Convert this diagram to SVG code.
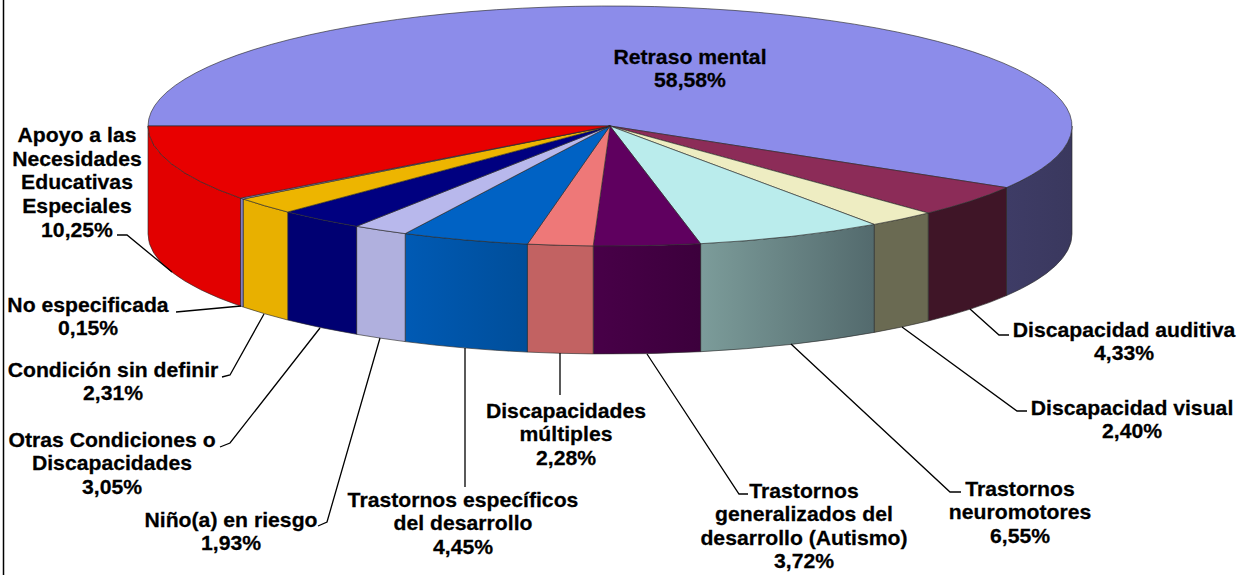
<svg xmlns="http://www.w3.org/2000/svg" width="1241" height="575" viewBox="0 0 1241 575">
<style>
.top{stroke:#2a2a2a;stroke-width:0.8;stroke-opacity:0.8;stroke-linejoin:round}
.wall{stroke:#2a2a2a;stroke-width:0.8;stroke-opacity:0.8;stroke-linejoin:round}
.lbl{font-family:"Liberation Sans",Arial,sans-serif;font-weight:bold;font-size:20px;fill:#000;stroke:#000;stroke-width:0.25;text-anchor:middle}
.ld{fill:none;stroke:#000;stroke-width:1.3}
</style>
<defs>
<linearGradient id="gNeuro" x1="0" y1="0" x2="1" y2="0"><stop offset="0" stop-color="#7C9C9A"/><stop offset="1" stop-color="#536A6D"/></linearGradient>
<linearGradient id="gEsp" x1="0" y1="0" x2="1" y2="0"><stop offset="0" stop-color="#005AB4"/><stop offset="1" stop-color="#004E9A"/></linearGradient>
<linearGradient id="gAut" x1="0" y1="0" x2="1" y2="0"><stop offset="0" stop-color="#480048"/><stop offset="1" stop-color="#3C003C"/></linearGradient>
<linearGradient id="gRet" x1="0" y1="0" x2="1" y2="0"><stop offset="0" stop-color="#3E3C66"/><stop offset="1" stop-color="#3A385E"/></linearGradient>
</defs>
<rect width="1241" height="575" fill="#fff"/>
<line x1="3.5" y1="0" x2="3.5" y2="575" stroke="#000" stroke-width="1.5"/>

<g id="walls">
<path class="wall" fill="url(#gRet)" d="M1072,126 A462,120 0 0 1 1006.5,187.6 L1006.5,295.6 A462,120 0 0 0 1072,234 Z"/>
<path class="wall" fill="#3F1527" d="M1006.5,187.6 A462,120 0 0 1 928.2,213 L928.2,321 A462,120 0 0 0 1006.5,295.6 Z"/>
<path class="wall" fill="#6A6A52" d="M928.2,213 A462,120 0 0 1 874.2,224.4 L874.2,332.4 A462,120 0 0 0 928.2,321 Z"/>
<path class="wall" fill="url(#gNeuro)" d="M874.2,224.4 A462,120 0 0 1 700.6,243.7 L700.6,351.7 A462,120 0 0 0 874.2,332.4 Z"/>
<path class="wall" fill="url(#gAut)" d="M700.6,243.7 A462,120 0 0 1 593.2,245.9 L593.2,353.9 A462,120 0 0 0 700.6,351.7 Z"/>
<path class="wall" fill="#C26262" d="M593.2,245.9 A462,120 0 0 1 527.4,244.1 L527.4,352.1 A462,120 0 0 0 593.2,353.9 Z"/>
<path class="wall" fill="url(#gEsp)" d="M527.4,244.1 A462,120 0 0 1 405.2,233.6 L405.2,341.6 A462,120 0 0 0 527.4,352.1 Z"/>
<path class="wall" fill="#B0B0DE" d="M405.2,233.6 A462,120 0 0 1 356.6,226.3 L356.6,334.3 A462,120 0 0 0 405.2,341.6 Z"/>
<path class="wall" fill="#000072" d="M356.6,226.3 A462,120 0 0 1 287.7,212 L287.7,320 A462,120 0 0 0 356.6,334.3 Z"/>
<path class="wall" fill="#E8B000" d="M287.7,212 A462,120 0 0 1 243.2,199 L243.2,307 A462,120 0 0 0 287.7,320 Z"/>
<path class="wall" fill="#8080C0" d="M243.2,199 A462,120 0 0 1 240.5,198.1 L240.5,306.1 A462,120 0 0 0 243.2,307 Z"/>
<path class="wall" fill="#E20000" d="M240.5,198.1 A462,120 0 0 1 148,126 L148,234 A462,120 0 0 0 240.5,306.1 Z"/>
</g>

<g id="slice-retraso"><path class="top" fill="#8C8CEA" d="M610,126 L148,126 A462,120 0 1 1 1006.5,187.6 Z"/></g>
<g id="slice-auditiva"><path class="top" fill="#8C2C58" d="M610,126 L1006.5,187.6 A462,120 0 0 1 928.2,213 Z"/></g>
<g id="slice-visual"><path class="top" fill="#EEEDC2" d="M610,126 L928.2,213 A462,120 0 0 1 874.2,224.4 Z"/></g>
<g id="slice-neuromotores"><path class="top" fill="#BAECEC" d="M610,126 L874.2,224.4 A462,120 0 0 1 700.6,243.7 Z"/></g>
<g id="slice-autismo"><path class="top" fill="#5F005F" d="M610,126 L700.6,243.7 A462,120 0 0 1 593.2,245.9 Z"/></g>
<g id="slice-multiples"><path class="top" fill="#EE7878" d="M610,126 L593.2,245.9 A462,120 0 0 1 527.4,244.1 Z"/></g>
<g id="slice-especificos"><path class="top" fill="#0062C4" d="M610,126 L527.4,244.1 A462,120 0 0 1 405.2,233.6 Z"/></g>
<g id="slice-nino"><path class="top" fill="#B8B8EC" d="M610,126 L405.2,233.6 A462,120 0 0 1 356.6,226.3 Z"/></g>
<g id="slice-otras"><path class="top" fill="#000080" d="M610,126 L356.6,226.3 A462,120 0 0 1 287.7,212 Z"/></g>
<g id="slice-condicion"><path class="top" fill="#EDB500" d="M610,126 L287.7,212 A462,120 0 0 1 243.2,199 Z"/></g>
<g id="slice-noesp"><path class="top" fill="#9999DD" d="M610,126 L243.2,199 A462,120 0 0 1 240.5,198.1 Z"/></g>
<g id="slice-apoyo"><path class="top" fill="#E80000" d="M610,126 L240.5,198.1 A462,120 0 0 1 148,126 Z"/></g>

<g id="connectors">
<polyline class="ld" points="117,235 127,235 172,272"/>
<polyline class="ld" points="176,312 241,306"/>
<polyline class="ld" points="222,377 230,375 264,314"/>
<polyline class="ld" points="220,447 230,443 320,328"/>
<polyline class="ld" points="318,526 327,522 380,338"/>
<polyline class="ld" points="465,348 465,487"/>
<polyline class="ld" points="560,353 560,395"/>
<polyline class="ld" points="647,354 739,494 748,494"/>
<polyline class="ld" points="791,344 950,492 961,492"/>
<polyline class="ld" points="902,327 1017,411 1027,411"/>
<polyline class="ld" points="970,309 999,335 1009,335"/>
</g>

<g id="label-retraso"><text class="lbl" transform="translate(690,64) scale(1.06,1)"><tspan x="0">Retraso mental</tspan><tspan x="0" dy="23.5">58,58%</tspan></text></g>
<g id="label-apoyo"><text class="lbl" transform="translate(77,142) scale(1.06,1)"><tspan x="0">Apoyo a las</tspan><tspan x="0" dy="23.7">Necesidades</tspan><tspan x="0" dy="23.7">Educativas</tspan><tspan x="0" dy="23.7">Especiales</tspan><tspan x="0" dy="23.7">10,25%</tspan></text></g>
<g id="label-noesp"><text class="lbl" transform="translate(88,312) scale(1.06,1)"><tspan x="0">No especificada</tspan><tspan x="0" dy="23.5">0,15%</tspan></text></g>
<g id="label-condicion"><text class="lbl" transform="translate(113,377) scale(1.06,1)"><tspan x="0">Condición sin definir</tspan><tspan x="0" dy="23.5">2,31%</tspan></text></g>
<g id="label-otras"><text class="lbl" transform="translate(112,447) scale(1.06,1)"><tspan x="0">Otras Condiciones o</tspan><tspan x="0" dy="23.5">Discapacidades</tspan><tspan x="0" dy="23.5">3,05%</tspan></text></g>
<g id="label-nino"><text class="lbl" transform="translate(231,527) scale(1.06,1)"><tspan x="0">Niño(a) en riesgo</tspan><tspan x="0" dy="23.5">1,93%</tspan></text></g>
<g id="label-especificos"><text class="lbl" transform="translate(463,507) scale(1.06,1)"><tspan x="0">Trastornos específicos</tspan><tspan x="0" dy="23.5">del desarrollo</tspan><tspan x="0" dy="23.5">4,45%</tspan></text></g>
<g id="label-multiples"><text class="lbl" transform="translate(566,418) scale(1.06,1)"><tspan x="0">Discapacidades</tspan><tspan x="0" dy="23.5">múltiples</tspan><tspan x="0" dy="23.5">2,28%</tspan></text></g>
<g id="label-autismo"><text class="lbl" transform="translate(804,498) scale(1.06,1)"><tspan x="0">Trastornos</tspan><tspan x="0" dy="23.5">generalizados del</tspan><tspan x="0" dy="23.5">desarrollo (Autismo)</tspan><tspan x="0" dy="23.5">3,72%</tspan></text></g>
<g id="label-neuromotores"><text class="lbl" transform="translate(1020,496) scale(1.06,1)"><tspan x="0">Trastornos</tspan><tspan x="0" dy="23.5">neuromotores</tspan><tspan x="0" dy="23.5">6,55%</tspan></text></g>
<g id="label-visual"><text class="lbl" transform="translate(1132,415) scale(1.06,1)"><tspan x="0">Discapacidad visual</tspan><tspan x="0" dy="23.5">2,40%</tspan></text></g>
<g id="label-auditiva"><text class="lbl" transform="translate(1124,337) scale(1.06,1)"><tspan x="0">Discapacidad auditiva</tspan><tspan x="0" dy="23.5">4,33%</tspan></text></g>
</svg>
